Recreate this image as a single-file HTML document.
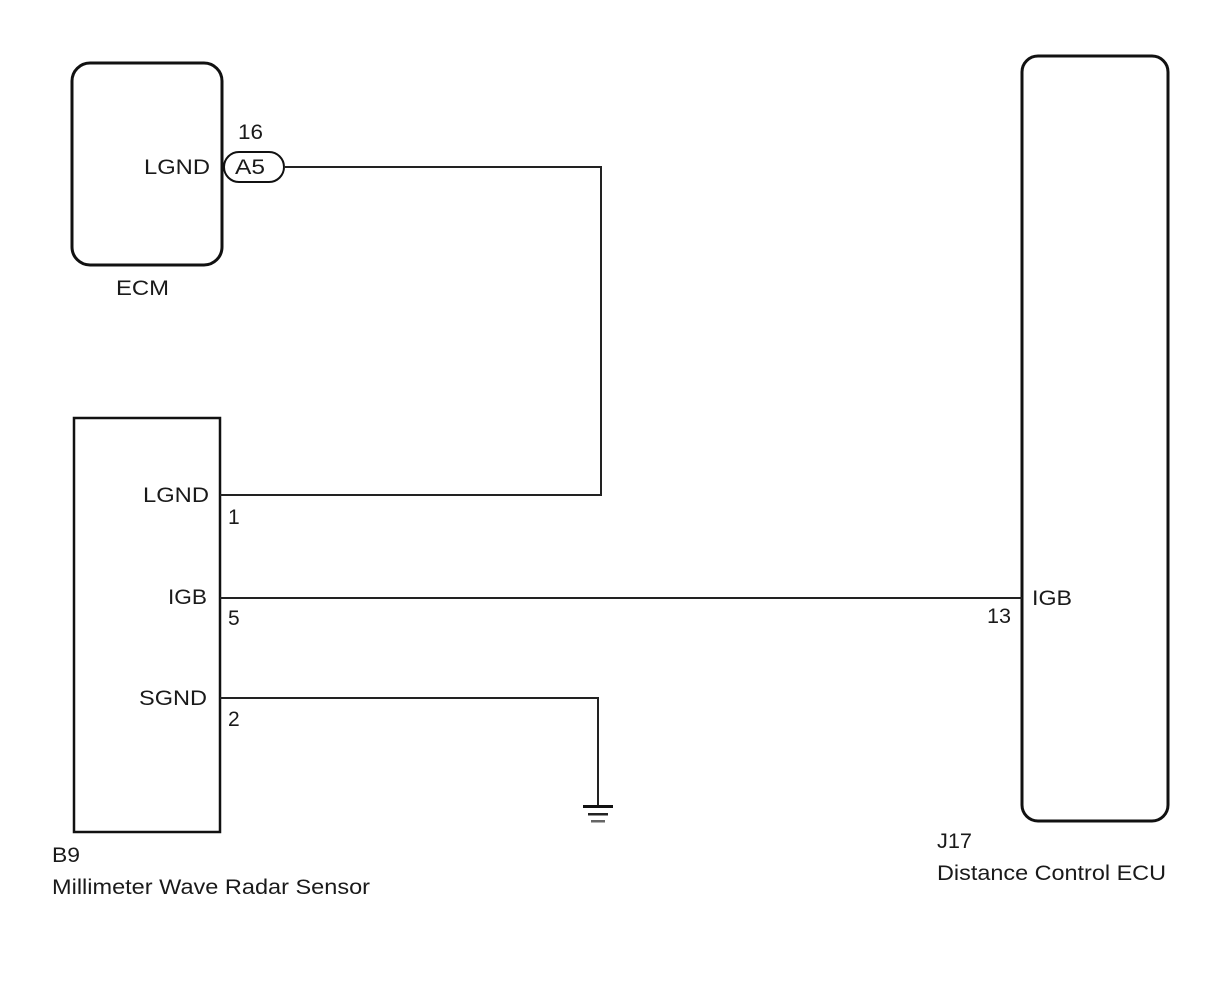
<!DOCTYPE html>
<html><head><style>body{margin:0;background:#fff}</style></head><body>
<svg width="1210" height="986" xmlns="http://www.w3.org/2000/svg" font-family="Liberation Sans, Arial, sans-serif" font-size="21" fill="#1a1a1a">
<rect x="0" y="0" width="1210" height="986" fill="#fff"/>
<rect x="72" y="63" width="150" height="202" rx="18" fill="none" stroke="#111" stroke-width="3"/>
<rect x="1022" y="56" width="146" height="765" rx="16" fill="none" stroke="#111" stroke-width="3"/>
<rect x="74" y="418" width="146" height="414" fill="none" stroke="#111" stroke-width="2.5"/>
<rect x="224" y="152" width="60" height="30" rx="15" fill="#fff" stroke="#111" stroke-width="2"/>
<g fill="none" stroke="#222" stroke-width="2">
<polyline points="284,167 601,167 601,495 220,495"/>
<line x1="220" y1="598" x2="1022" y2="598"/>
<polyline points="220,698 598,698 598,807"/>
</g>
<rect x="583" y="805" width="30" height="3" fill="#111"/>
<rect x="588" y="813" width="20" height="2.5" fill="#222"/>
<rect x="591" y="820" width="14" height="2.5" fill="#666"/>
<text x="238" y="139" textLength="25" lengthAdjust="spacingAndGlyphs">16</text>
<text x="144" y="174" textLength="66" lengthAdjust="spacingAndGlyphs">LGND</text>
<text x="235" y="174" textLength="30" lengthAdjust="spacingAndGlyphs">A5</text>
<text x="116" y="295" textLength="53" lengthAdjust="spacingAndGlyphs">ECM</text>
<text x="143" y="502" textLength="66" lengthAdjust="spacingAndGlyphs">LGND</text>
<text x="228" y="524">1</text>
<text x="168" y="604" textLength="39" lengthAdjust="spacingAndGlyphs">IGB</text>
<text x="228" y="625">5</text>
<text x="139" y="705" textLength="68" lengthAdjust="spacingAndGlyphs">SGND</text>
<text x="228" y="726">2</text>
<text x="1032" y="605" textLength="40" lengthAdjust="spacingAndGlyphs">IGB</text>
<text x="987" y="623" textLength="24" lengthAdjust="spacingAndGlyphs">13</text>
<text x="52" y="862" textLength="28" lengthAdjust="spacingAndGlyphs">B9</text>
<text x="52" y="894" textLength="318" lengthAdjust="spacingAndGlyphs">Millimeter Wave Radar Sensor</text>
<text x="937" y="848" textLength="35" lengthAdjust="spacingAndGlyphs">J17</text>
<text x="937" y="880" textLength="229" lengthAdjust="spacingAndGlyphs">Distance Control ECU</text>
</svg>
</body></html>
